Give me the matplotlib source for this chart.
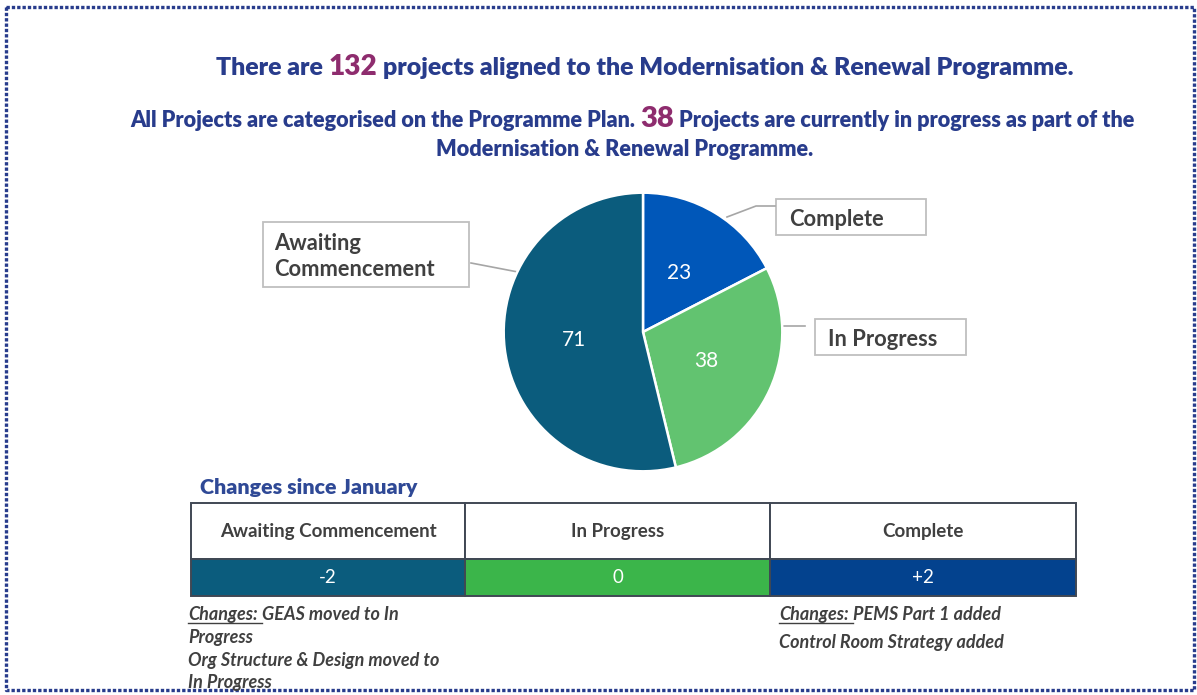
import matplotlib
matplotlib.use('Agg')
import matplotlib.pyplot as plt
from matplotlib.patches import Rectangle

# ---------------- data ----------------
total_projects = 132
in_progress_now = 38
pie_categories = ["Complete", "In Progress", "Awaiting Commencement"]
pie_counts = [23, 38, 71]
pie_colors = ["#0057B9", "#62C370", "#0B5C7D"]

table_categories = ["Awaiting Commencement", "In Progress", "Complete"]
table_changes = [-2, 0, 2]
table_colors = ["#0B5C7D", "#3BB54A", "#03428E"]

notes_left = ["GEAS moved to In", "Progress", "Org Structure & Design moved to", "In Progress"]
notes_right = ["PEMS Part 1 added", "Control Room Strategy added"]

# ---------------- figure ----------------
W, H = 1197, 695
FONT = "Lato"
NAVY = "#283C8C"
PURPLE = "#8E2C6E"
GREY = "#404040"

fig = plt.figure(figsize=(W / 100, H / 100), dpi=100)
fig.patch.set_facecolor("white")
ov = fig.add_axes([0, 0, 1, 1])
ov.set_xlim(0, W)
ov.set_ylim(H, 0)
ov.axis("off")
r = fig.canvas.get_renderer()


def measure(s, **kw):
    t = ov.text(0, 0, s, **kw)
    w = t.get_window_extent(r).width
    t.remove()
    return w


def runs_total(runs, base, **kw):
    sp = measure("a a", fontsize=base, **kw) - measure("aa", fontsize=base, **kw)
    ws = [measure(t, fontsize=base * f, **kw) for t, c, f in runs]
    return sum(ws) + sp * (len(runs) - 1), ws, sp


def draw_runs(runs, x, y, target_w=None, base=14, align="center", **kw):
    if target_w:
        tot, _, _ = runs_total(runs, base, **kw)
        base = base * target_w / tot
    tot, ws, sp = runs_total(runs, base, **kw)
    x0 = x - tot / 2 if align == "center" else x
    out = []
    for (t, c, f), w in zip(runs, ws):
        ov.text(x0, y, t, fontsize=base * f, color=c, va="baseline", ha="left", **kw)
        out.append((x0, w))
        x0 += w + sp
    return base, out


def fit_size(s, target_w, base=14, **kw):
    return base * target_w / measure(s, fontsize=base, **kw)


# dotted border
bx0, by0, bx1, by1 = 6, 7, 1194, 690
ov.plot([bx0, bx1, bx1, bx0, bx0], [by0, by0, by1, by1, by0], color=NAVY,
        lw=2.4, ls=(0, (1, 0.6)), solid_capstyle="butt", dash_capstyle="butt")

# titles
TKW = dict(family=FONT, fontweight="heavy")
draw_runs([("There are", NAVY, 1.0), (str(total_projects), PURPLE, 1.12),
           ("projects aligned to the Modernisation & Renewal Programme.", NAVY, 1.0)],
          645, 75, target_w=860, **TKW)
b2, _ = draw_runs([("All Projects are categorised on the Programme Plan.", NAVY, 1.0),
                   (str(in_progress_now), PURPLE, 1.35),
                   ("Projects are currently in progress as part of the", NAVY, 1.0)],
                  632, 127, target_w=1009, **TKW)
ov.text(625, 156, "Modernisation & Renewal Programme.", fontsize=b2, color=NAVY,
        ha="center", va="baseline", **TKW)

# ---------------- pie ----------------
pcx, pcy, pr = 643, 332, 140
pax = fig.add_axes([(pcx - pr) / W, (H - pcy - pr) / H, 2 * pr / W, 2 * pr / H])
wedges, texts, autotexts = pax.pie(
    pie_counts, colors=pie_colors, startangle=90, counterclock=False,
    autopct=lambda p: f"{round(p * sum(pie_counts) / 100):d}", pctdistance=0.5,
    wedgeprops=dict(edgecolor="white", linewidth=1.8),
    textprops=dict(color="white", fontsize=15, family=FONT))
pax.set_xlim(-1.005, 1.005)
pax.set_ylim(-1.005, 1.005)

# leader lines (pixel layout)
LC = "#A6A6A6"
ov.plot([727, 756, 775], [217, 206, 206], color=LC, lw=1.2)
ov.plot([768, 805], [326, 326], color=LC, lw=1.2)
ov.plot([518, 471], [272, 263], color=LC, lw=1.2)

# label boxes
BOXC = "#BFBFBF"
label_boxes = {
    "Complete": (776, 199, 926, 235),
    "In Progress": (815, 319, 966, 355),
    "Awaiting Commencement": (263, 222, 469, 287),
}
label_text = {"Complete": ["Complete"], "In Progress": ["In Progress"],
              "Awaiting Commencement": ["Awaiting", "Commencement"]}
lab_size = fit_size("Commencement", 161, family=FONT, fontweight="bold")
for cat in pie_categories:
    x0, y0, x1, y1 = label_boxes[cat]
    ov.add_patch(Rectangle((x0, y0), x1 - x0, y1 - y0, fc="white", ec=BOXC, lw=1.3))
    lines = label_text[cat]
    if len(lines) == 1:
        ov.text(x0 + 13, (y0 + y1) / 2 + 2, lines[0], fontsize=lab_size, color=GREY,
                family=FONT, fontweight="bold", va="center", ha="left")
    else:
        for i, ln in enumerate(lines):
            ov.text(x0 + 11, y0 + 21 + 27 * i, ln, fontsize=lab_size, color=GREY,
                    family=FONT, fontweight="bold", va="center", ha="left")

# ---------------- changes table ----------------
ov.text(200, 494, "Changes since January",
        fontsize=fit_size("Changes since January", 217, family=FONT, fontweight="heavy"),
        color="#2F4996", family=FONT, fontweight="heavy", va="baseline", ha="left")

col_edges = [191, 465, 770, 1076]
row_top, row_mid, row_bot = 503, 559, 596
TB = "#404854"
hdr_size = fit_size("Awaiting Commencement", 218, family=FONT, fontweight="bold")
for i, (cat, val, col) in enumerate(zip(table_categories, table_changes, table_colors)):
    xa, xb = col_edges[i], col_edges[i + 1]
    ov.add_patch(Rectangle((xa, row_top), xb - xa, row_mid - row_top, fc="white", ec=TB, lw=1.4, zorder=2))
    ov.add_patch(Rectangle((xa, row_mid), xb - xa, row_bot - row_mid, fc=col, ec=TB, lw=1.4, zorder=2))
    ov.text((xa + xb) / 2, (row_top + row_mid) / 2 + 1, cat, fontsize=hdr_size, color=GREY,
            family=FONT, fontweight="bold", ha="center", va="center", zorder=3)
    s = f"{val:+d}" if val != 0 else "0"
    ov.text((xa + xb) / 2, (row_mid + row_bot) / 2, s, fontsize=hdr_size, color="white",
            family=FONT, ha="center", va="center", zorder=3)

# notes
NKW = dict(family=FONT, fontweight="bold", fontstyle="italic")
note_size = fit_size("Changes: GEAS moved to In", 210, **NKW)


def draw_notes(x, ys, lines):
    for j, (y, ln) in enumerate(zip(ys, lines)):
        if j == 0:
            _, pos = draw_runs([("Changes:", GREY, 1.0), (ln, GREY, 1.0)], x, y,
                               base=note_size, align="left", **NKW)
            ux, uw = pos[0]
            ov.plot([ux, ux + uw + 4], [y + 3, y + 3], color=GREY, lw=1.0)
        else:
            ov.text(x, y, ln, fontsize=note_size, color=GREY, va="baseline", ha="left", **NKW)


draw_notes(188, [620, 643, 666, 688], notes_left)
draw_notes(779, [620, 648], notes_right)

fig.savefig("out.png", dpi=100, facecolor="white")
